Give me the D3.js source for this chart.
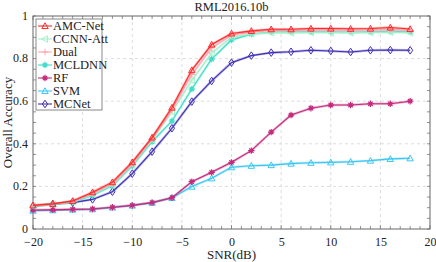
<!DOCTYPE html>
<html>
<head>
<meta charset="utf-8">
<script src="https://cdn.jsdelivr.net/npm/d3@7"></script>
<style>
  body { margin: 0; background: #fff; }
</style>
</head>
<body>
<div id="chart"></div>
<script>
const snr = [-20, -18, -16, -14, -12, -10, -8, -6, -4, -2, 0, 2, 4, 6, 8, 10, 12, 14, 16, 18];

const amcNet  = [0.111, 0.118, 0.132, 0.173, 0.220, 0.314, 0.430, 0.570, 0.746, 0.866, 0.918, 0.930, 0.938, 0.938, 0.941, 0.941, 0.940, 0.941, 0.946, 0.939];
const ccnnAtt = [0.108, 0.116, 0.127, 0.163, 0.208, 0.302, 0.418, 0.550, 0.698, 0.826, 0.900, 0.916, 0.921, 0.921, 0.922, 0.922, 0.921, 0.922, 0.924, 0.921];
const dual    = [0.110, 0.117, 0.129, 0.167, 0.213, 0.306, 0.424, 0.560, 0.725, 0.850, 0.910, 0.925, 0.932, 0.932, 0.933, 0.934, 0.932, 0.934, 0.936, 0.932];
const mcldnn  = [0.107, 0.115, 0.125, 0.158, 0.203, 0.296, 0.410, 0.507, 0.657, 0.798, 0.888, 0.915, 0.925, 0.926, 0.926, 0.926, 0.925, 0.926, 0.928, 0.926];
const rf      = [0.089, 0.090, 0.092, 0.094, 0.102, 0.111, 0.124, 0.147, 0.222, 0.266, 0.313, 0.368, 0.455, 0.535, 0.567, 0.582, 0.582, 0.588, 0.588, 0.600];
const svm     = [0.086, 0.088, 0.091, 0.093, 0.101, 0.110, 0.123, 0.146, 0.199, 0.238, 0.290, 0.297, 0.300, 0.307, 0.311, 0.313, 0.316, 0.321, 0.329, 0.332];
const mcNet   = [0.107, 0.117, 0.124, 0.139, 0.175, 0.260, 0.363, 0.473, 0.598, 0.695, 0.781, 0.814, 0.828, 0.832, 0.839, 0.836, 0.831, 0.839, 0.840, 0.839];

const seriesNames = ["AMC-Net", "CCNN-Att", "Dual", "MCLDNN", "RF", "SVM", "MCNet"];
const seriesValues = [amcNet, ccnnAtt, dual, mcldnn, rf, svm, mcNet];
const seriesColors = ["#ff2a2a", "#9ff0c8", "#ffa6b4", "#3fdcc8", "#c62a7c", "#3cc6f2", "#3f30b4"];
const seriesMarkers = ["triangle", "left", "plus", "star", "star", "triangle", "diamond"];

const xTicks = [-20, -15, -10, -5, 0, 5, 10, 15, 20];
const yTicks = [0, 0.2, 0.4, 0.6, 0.8, 1];

const width = 436, height = 262;
const margin = { top: 16, right: 6, bottom: 33, left: 33 };
const serif = "Times New Roman, serif";

const svg = d3.select("#chart").append("svg")
  .attr("width", width)
  .attr("height", height)
  .attr("font-family", serif);

const x = d3.scaleLinear().domain([-20, 20]).range([margin.left, width - margin.right]);
const y = d3.scaleLinear().domain([0, 1]).range([height - margin.bottom, margin.top]);

// grid
svg.append("g").selectAll("line")
  .data(xTicks.slice(1, -1))
  .enter().append("line")
  .attr("x1", d => x(d)).attr("x2", d => x(d))
  .attr("y1", y(0)).attr("y2", y(1))
  .attr("stroke", "#dcdcdc").attr("stroke-dasharray", "3,3");
svg.append("g").selectAll("line")
  .data(yTicks.slice(1, -1))
  .enter().append("line")
  .attr("x1", x(-20)).attr("x2", x(20))
  .attr("y1", d => y(d)).attr("y2", d => y(d))
  .attr("stroke", "#dcdcdc").attr("stroke-dasharray", "3,3");

// axes, ticks inside like matlab
const xMinor = d3.range(-20, 21, 1);
const yMinor = d3.range(0, 1.001, 0.05);

const xAxis = d3.axisBottom(x).tickValues(xTicks).tickSize(0).tickPadding(8);
const yAxis = d3.axisLeft(y).tickValues(yTicks).tickSize(0).tickPadding(5).tickFormat(d => d === 0 || d === 1 ? d : d3.format(".1f")(d));

const gx = svg.append("g").attr("transform", `translate(0,${y(0)})`).call(xAxis);
const gy = svg.append("g").attr("transform", `translate(${x(-20)},0)`).call(yAxis);
[gx, gy].forEach(g => {
  g.attr("font-family", serif).attr("font-size", 12);
  g.select(".domain").remove();
  g.selectAll("text").attr("fill", "#222");
});
gy.selectAll("text").attr("dy", "0.28em");

const tick = svg.append("g").attr("stroke", "#777").attr("stroke-width", 0.8);
xMinor.forEach(v => {
  const len = v % 5 === 0 ? 4 : 3;
  tick.append("line").attr("x1", x(v)).attr("x2", x(v)).attr("y1", y(0)).attr("y2", y(0) - len);
  tick.append("line").attr("x1", x(v)).attr("x2", x(v)).attr("y1", y(1)).attr("y2", y(1) + len);
});
yMinor.forEach(v => {
  const len = 3;
  tick.append("line").attr("y1", y(v)).attr("y2", y(v)).attr("x1", x(-20)).attr("x2", x(-20) + len);
  tick.append("line").attr("y1", y(v)).attr("y2", y(v)).attr("x1", x(20)).attr("x2", x(20) - len);
});

svg.append("rect")
  .attr("x", x(-20)).attr("y", y(1))
  .attr("width", x(20) - x(-20)).attr("height", y(0) - y(1))
  .attr("fill", "none").attr("stroke", "#666").attr("stroke-width", 1);

// markers
function marker(g, type, cx, cy, color) {
  const s = 3.2;
  if (type === "triangle") {
    g.append("path").attr("d", `M${cx},${cy - s}L${cx + s},${cy + s * 0.8}L${cx - s},${cy + s * 0.8}Z`)
      .attr("fill", "none").attr("stroke", color).attr("stroke-width", 1);
  } else if (type === "left") {
    g.append("path").attr("d", `M${cx - s},${cy}L${cx + s * 0.8},${cy - s}L${cx + s * 0.8},${cy + s}Z`)
      .attr("fill", "none").attr("stroke", color).attr("stroke-width", 1);
  } else if (type === "plus") {
    g.append("path").attr("d", `M${cx - s},${cy}H${cx + s}M${cx},${cy - s}V${cy + s}`)
      .attr("stroke", color).attr("stroke-width", 1);
  } else if (type === "star") {
    g.append("path").attr("d", `M${cx - s},${cy}H${cx + s}M${cx},${cy - s}V${cy + s}M${cx - 2.2},${cy - 2.2}L${cx + 2.2},${cy + 2.2}M${cx - 2.2},${cy + 2.2}L${cx + 2.2},${cy - 2.2}`)
      .attr("stroke", color).attr("stroke-width", 1.2);
    g.append("circle").attr("cx", cx).attr("cy", cy).attr("r", 1.6).attr("fill", color);
  } else if (type === "diamond") {
    g.append("path").attr("d", `M${cx},${cy - s - 0.6}L${cx + s - 0.6},${cy}L${cx},${cy + s + 0.6}L${cx - s + 0.6},${cy}Z`)
      .attr("fill", "none").attr("stroke", color).attr("stroke-width", 1);
  }
}

const line = d3.line().x((d, i) => x(snr[i])).y(d => y(d));

// draw back to front so AMC-Net is on top
const order = [5, 4, 6, 3, 1, 2, 0];
order.forEach(k => {
  const g = svg.append("g");
  g.append("path")
    .datum(seriesValues[k])
    .attr("d", line)
    .attr("fill", "none")
    .attr("stroke", seriesColors[k])
    .attr("stroke-opacity", 0.35)
    .attr("stroke-width", 2.5);
  g.append("path")
    .datum(seriesValues[k])
    .attr("d", line)
    .attr("fill", "none")
    .attr("stroke", seriesColors[k])
    .attr("stroke-width", 1.1);
  seriesValues[k].forEach((v, i) => marker(g, seriesMarkers[k], x(snr[i]), y(v), seriesColors[k]));
});

// legend
const lg = svg.append("g");
lg.append("rect")
  .attr("x", 36).attr("y", 19).attr("width", 66).attr("height", 91)
  .attr("fill", "#fff").attr("stroke", "#888").attr("stroke-width", 1);
seriesNames.forEach((name, k) => {
  const ly = 26 + k * 13;
  lg.append("line").attr("x1", 38).attr("x2", 52).attr("y1", ly).attr("y2", ly)
    .attr("stroke", seriesColors[k]).attr("stroke-width", 1.1);
  marker(lg, seriesMarkers[k], 45, ly, seriesColors[k]);
  lg.append("text").attr("x", 53).attr("y", ly + 4.2)
    .attr("font-size", 12.5).attr("fill", "#222").text(name);
});

// titles
svg.append("text")
  .attr("x", (x(-20) + x(20)) / 2).attr("y", 11)
  .attr("text-anchor", "middle")
  .attr("font-size", 12.5).attr("fill", "#222")
  .text("RML2016.10b");
svg.append("text")
  .attr("x", (x(-20) + x(20)) / 2).attr("y", 259)
  .attr("text-anchor", "middle")
  .attr("font-size", 13).attr("fill", "#222")
  .text("SNR(dB)");
svg.append("text")
  .attr("transform", `translate(12,${(y(0) + y(1)) / 2}) rotate(-90)`)
  .attr("text-anchor", "middle")
  .attr("font-size", 13).attr("fill", "#222")
  .text("Overall Accuracy");
</script>
</body>
</html>
